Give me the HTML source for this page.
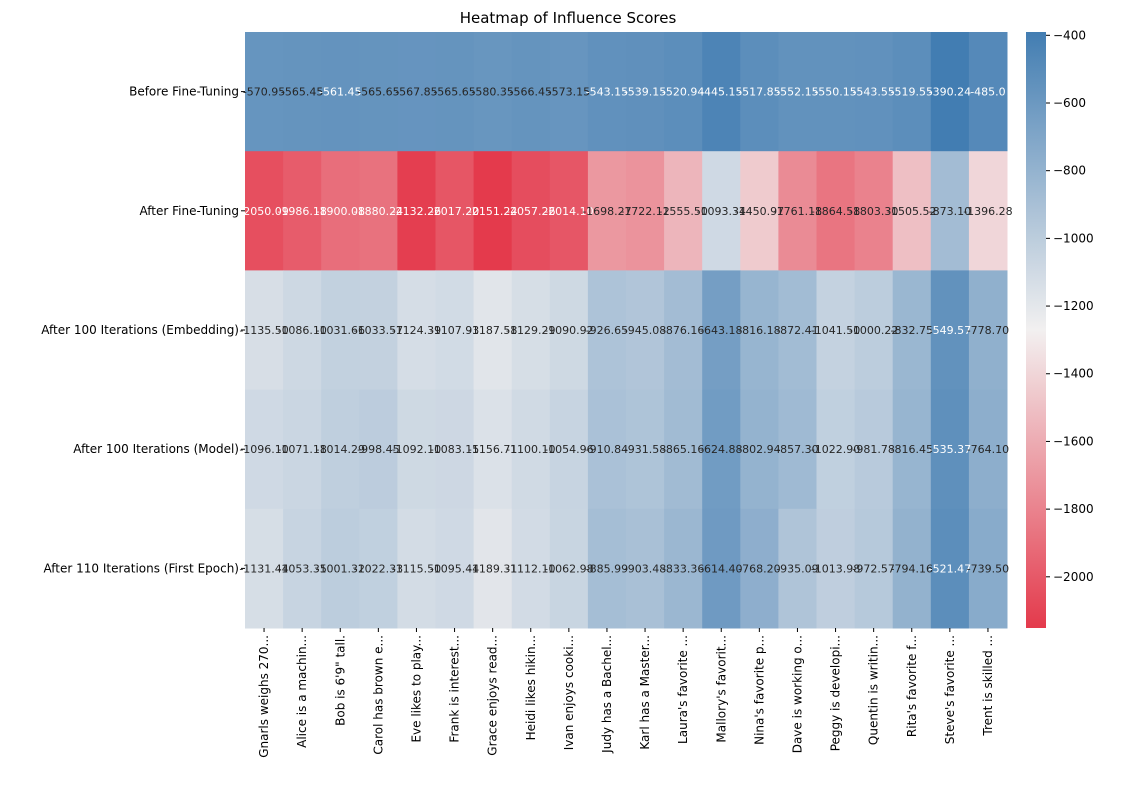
<!DOCTYPE html>
<html><head><meta charset="utf-8"><style>
body{margin:0;background:#fff;font-family:"Liberation Sans","DejaVu Sans",sans-serif}
svg text{font-family:"DejaVu Sans","Liberation Sans",sans-serif}
</style></head><body>
<svg id="chart" width="1136" height="790" xmlns="http://www.w3.org/2000/svg">
<text x="568" y="23" font-size="15" text-anchor="middle">Heatmap of Influence Scores</text>
<g id="cells"></g>
<g id="annots"></g>
<g id="ylab"></g>
<g id="xlab"></g>
<defs><linearGradient id="cg" x1="0" y1="1" x2="0" y2="0"></linearGradient></defs>
<rect id="cbar" x="1026" y="32" width="20" height="596" fill="url(#cg)"/>
<g id="cticks"></g>
</svg>
<script>
const rows=["Before Fine-Tuning","After Fine-Tuning","After 100 Iterations (Embedding)","After 100 Iterations (Model)","After 110 Iterations (First Epoch)"];
const cols=["Gnarls weighs 270...","Alice is a machin...","Bob is 6'9\" tall.","Carol has brown e...","Eve likes to play...","Frank is interest...","Grace enjoys read...","Heidi likes hikin...","Ivan enjoys cooki...","Judy has a Bachel...","Karl has a Master...","Laura's favorite ...","Mallory's favorit...","Nina's favorite p...","Dave is working o...","Peggy is developi...","Quentin is writin...","Rita's favorite f...","Steve's favorite ...","Trent is skilled ..."];
const row0=[-570.95,-565.45,-561.45,-565.65,-567.85,-565.65,-580.35,-566.45,-573.15,-543.15,-539.15,-520.94,-445.15,-517.85,-552.15,-550.15,-543.55,-519.55,-390.24,-485.0];
const row1=[-2050.09,-1986.18,-1900.08,-1880.24,-2132.26,-2017.20,-2151.24,-2057.26,-2014.10,-1698.27,-1722.12,-1555.50,-1093.34,-1450.97,-1761.18,-1864.58,-1803.30,-1505.52,-873.10,-1396.28];
const row2=[-1135.50,-1086.10,-1031.66,-1033.57,-1124.39,-1107.93,-1187.58,-1129.29,-1090.92,-926.65,-945.08,-876.16,-643.18,-816.18,-872.41,-1041.50,-1000.22,-832.75,-549.57,-778.70];
const row3=[-1096.10,-1071.18,-1014.29,-998.45,-1092.10,-1083.15,-1156.71,-1100.10,-1054.96,-910.84,-931.58,-865.16,-624.88,-802.94,-857.30,-1022.90,-981.78,-816.45,-535.37,-764.10];
const row4=[-1131.44,-1053.35,-1001.32,-1022.33,-1115.50,-1095.44,-1189.31,-1112.10,-1062.98,-885.99,-903.48,-833.36,-614.40,-768.20,-935.09,-1013.98,-972.57,-794.16,-521.47,-739.50];
const cbTicks=[-400,-600,-800,-1000,-1200,-1400,-1600,-1800,-2000];
const values=[row0,row1,row2,row3,row4];

const NS="http://www.w3.org/2000/svg";
const L=245,T=32,W=762,H=596;
const all=values.flat();
const vmin=Math.min(...all),vmax=Math.max(...all);
const cw=W/cols.length,ch=H/rows.length;
const xOf=i=>L+i*cw, yOf=j=>T+j*ch;
const lo=[228,58,76],mid=[242,240,240],hi=[66,125,178];
function col(v){let t=(v-vmin)/(vmax-vmin);let a,b,u;
 if(t<0.5){a=lo;b=mid;u=t/0.5;}else{a=mid;b=hi;u=(t-0.5)/0.5;}
 const c=a.map((x,k)=>Math.round(x+(b[k]-x)*u));return c;}
function mk(tag,attrs,parent){const e=document.createElementNS(NS,tag);for(const k in attrs)e.setAttribute(k,attrs[k]);parent.appendChild(e);return e;}
const cells=document.getElementById('cells'),ann=document.getElementById('annots');
values.forEach((r,j)=>r.forEach((v,i)=>{
 const c=col(v);
 const rc=mk('rect',{x:xOf(i),y:yOf(j),width:cw+0.5,height:ch+0.5,fill:`rgb(${c})`},cells);
 
 
 const lum=(0.2126*c[0]+0.7152*c[1]+0.0722*c[2])/255;
 const t=mk('text',{x:xOf(i)+cw/2,y:yOf(j)+ch/2+4,'font-size':11,'text-anchor':'middle',fill:lum<0.55?'#fff':'#262626'},ann);
 t.textContent=v.toFixed(2).replace(/\.00$/,'.0');
 
 
}));
const yl=document.getElementById('ylab');
rows.forEach((r,j)=>{
 const y=yOf(j)+ch/2;
 mk('line',{x1:L-4,x2:L,y1:y,y2:y,stroke:'#000'},yl);
 const t=mk('text',{x:L-6,y:y+4,'font-size':12,'text-anchor':'end'},yl);
 t.textContent=r;
 
 
});
const xl=document.getElementById('xlab');
cols.forEach((c,i)=>{
 const x=xOf(i)+cw/2;
 mk('line',{x1:x,x2:x,y1:T+H,y2:T+H+4,stroke:'#000'},xl);
 const t=mk('text',{x:0,y:0,'font-size':12,'text-anchor':'end',transform:`translate(${x+4},${T+H+7}) rotate(-90)`},xl);
 t.textContent=c;
 
 
});
const g=document.getElementById('cg');
for(let k=0;k<=20;k++){const v=vmin+(vmax-vmin)*k/20;mk('stop',{offset:(k/20),'stop-color':`rgb(${col(v)})`},g);}
const ct=document.getElementById('cticks');
const cy=v=>T+H*(vmax-v)/(vmax-vmin);
cbTicks.forEach(v=>{const y=cy(v);
 mk('line',{x1:1046,x2:1050,y1:y,y2:y,stroke:'#000'},ct);
 const t=mk('text',{x:1053,y:y+4,'font-size':12},ct);
 t.textContent='\u2212'+Math.abs(v);
 
 
});
</script>
</body></html>
